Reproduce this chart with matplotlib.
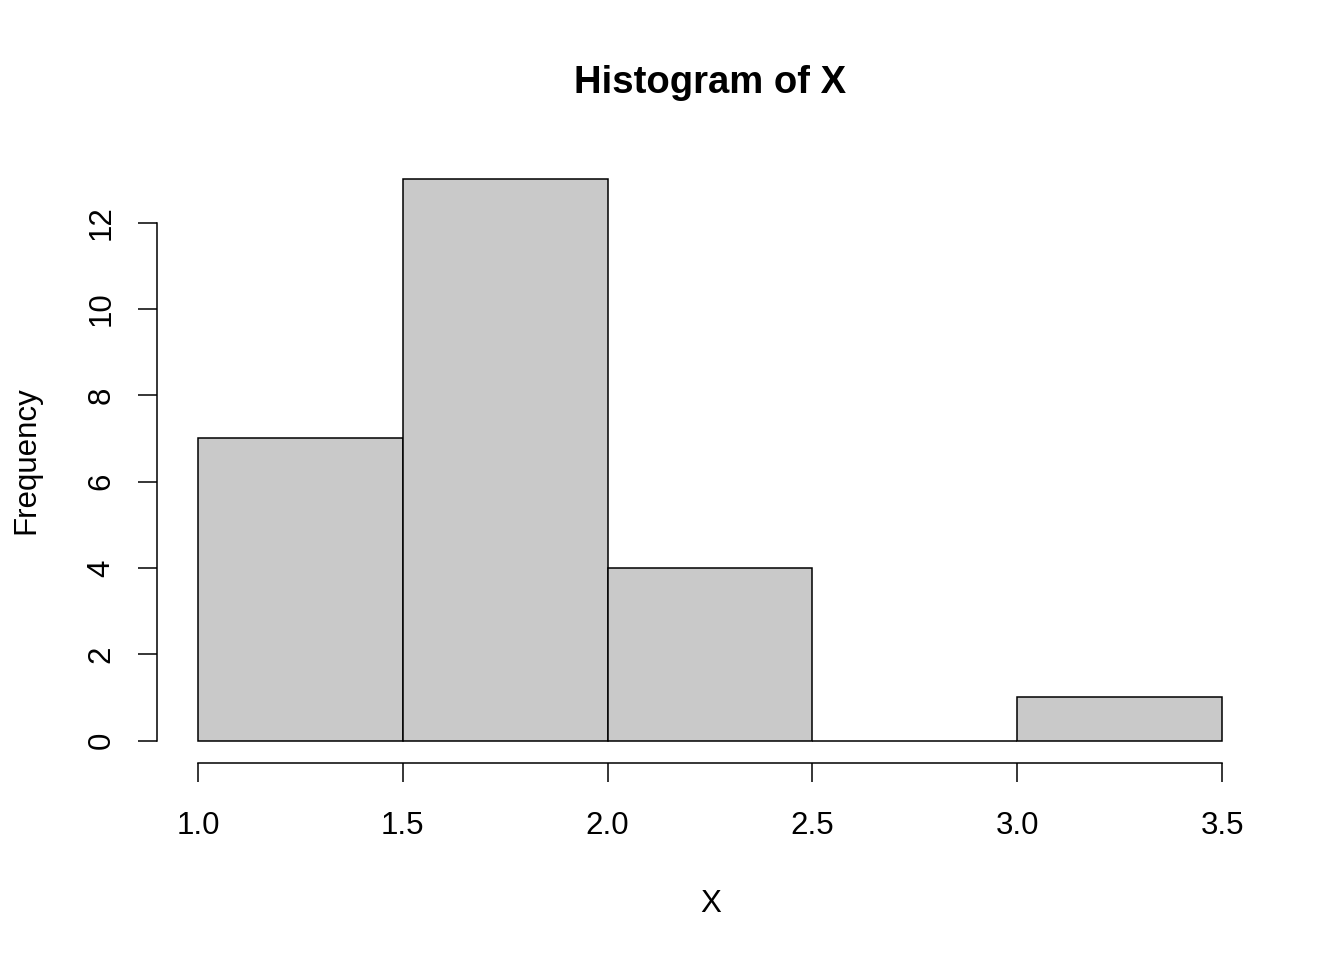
import matplotlib
matplotlib.use("Agg")
import matplotlib.pyplot as plt

# histogram bins (left edges) and counts
bin_left = [1.0, 1.5, 2.0, 2.5, 3.0]
bin_width = 0.5
counts = [7, 13, 4, 0, 1]
x_ticks = [1.0, 1.5, 2.0, 2.5, 3.0, 3.5]
x_tick_labels = ["1.0", "1.5", "2.0", "2.5", "3.0", "3.5"]
y_ticks = [0, 2, 4, 6, 8, 10, 12]

plt.rcParams['font.family'] = ['Liberation Sans', 'DejaVu Sans']

W, H = 1344, 960
fig = plt.figure(figsize=(W / 100, H / 100), dpi=100)
# plot region placed like R's default margins
ax = fig.add_axes([157 / W, 1 - 763 / H, (1263 - 157) / W, (763 - 157) / H])

ax.bar(bin_left, counts, width=bin_width, align='edge',
       color='#C9C9C9', edgecolor='black', linewidth=1.1)

ax.set_xlim(0.9, 3.6)
ax.set_ylim(-0.52, 13.52)

for s in ['top', 'right']:
    ax.spines[s].set_visible(False)
ax.spines['left'].set_bounds(0, 12)
ax.spines['bottom'].set_bounds(1.0, 3.5)
for s in ['left', 'bottom']:
    ax.spines[s].set_linewidth(1.1)

ax.set_xticks(x_ticks)
ax.set_xticklabels(x_tick_labels)
ax.set_yticks(y_ticks)
ax.set_yticklabels([str(v) for v in y_ticks], rotation=90, va='center')
ax.tick_params(length=14, width=1.1, labelsize=22.5)
ax.tick_params(axis='x', pad=20.5)
ax.tick_params(axis='y', pad=15)

# axis labels and title as figure text (R style placement)
fig.text(711 / W, 1 - 912 / H, "X", fontsize=22.5, ha='center', va='baseline')
fig.text(34 / W, 1 - 460 / H, "Frequency", fontsize=22.5, rotation=90,
         rotation_mode='anchor', ha='center', va='baseline')
fig.text(710 / W, 1 - 93 / H, "Histogram of X", fontsize=27.5,
         fontweight='bold', ha='center', va='baseline')

fig.savefig("out.png", dpi=100)
